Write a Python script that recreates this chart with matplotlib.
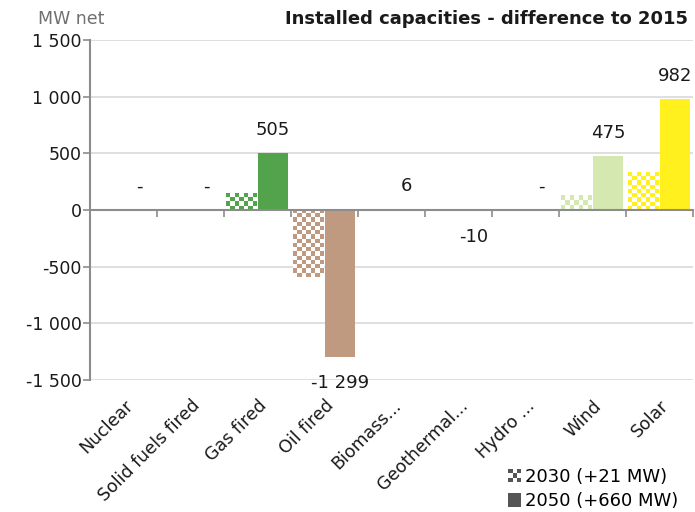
import numpy as np
import matplotlib
matplotlib.use("Agg")
import matplotlib.pyplot as plt
from matplotlib.patches import Rectangle
from matplotlib.legend_handler import HandlerBase
from matplotlib.ticker import FixedLocator, FuncFormatter

categories = ["Nuclear", "Solid fuels fired", "Gas fired", "Oil fired", "Biomass...",
              "Geothermal...", "Hydro ...", "Wind", "Solar"]
values_2030 = [0, 0, 150, -595, 5, -4, 0, 130, 335]
values_2050 = [0, 0, 505, -1299, 6, -10, 0, 475, 982]
colors = ["#8a8a8a", "#6b5a4a", "#52a34c", "#c09a80", "#a8a86a",
          "#b5584a", "#4a7fc0", "#d4e8b0", "#fff01e"]
legend_labels = ["2030 (+21 MW)", "2050 (+660 MW)"]
yticks = [-1500, -1000, -500, 0, 500, 1000, 1500]

plt.rcParams["font.family"] = ["DejaVu Sans"]
fig = plt.figure(figsize=(6.95, 5.12), dpi=100)
ax = fig.add_axes([90 / 695, 1 - 380 / 512, 603 / 695, 340 / 512])

x = np.arange(len(categories))
w = 0.46
ax.set_xlim(-0.5, len(categories) - 0.5)
ax.set_ylim(-1500, 1500)

# grid
for t in yticks:
    if t != 0:
        ax.axhline(t, color="#d9d9d9", lw=1.2, zorder=0)

bars30 = ax.bar(x - w / 2 - 0.005, values_2030, width=w, color="white", edgecolor="none", zorder=2)
bars50 = ax.bar(x + w / 2, values_2050, width=w, color=colors, edgecolor="none", zorder=2)

fig.canvas.draw()
cell = 4.3
for b, c in zip(bars30, colors):
    h = b.get_height()
    if h == 0:
        continue
    x0, y0 = b.get_x(), b.get_y()
    x1, y1 = x0 + b.get_width(), y0 + h
    ya, yb = min(y0, y1), max(y0, y1)
    p0 = ax.transData.transform((x0, ya))
    p1 = ax.transData.transform((x1, yb))
    nx = max(1, int(round((p1[0] - p0[0]) / cell)))
    ny = max(1, int(round((p1[1] - p0[1]) / cell)))
    rgba = np.array(matplotlib.colors.to_rgba(c))
    img = np.ones((ny, nx, 4))
    ii, jj = np.indices((ny, nx))
    mask = (ii + jj) % 2 == 0
    img[mask] = rgba
    im = ax.imshow(img, extent=(x0, x1, ya, yb), aspect="auto",
                   interpolation="nearest", origin="upper", zorder=3)
    im.set_clip_path(b)
ax.set_xlim(-0.5, len(categories) - 0.5)
ax.set_ylim(-1500, 1500)

# value labels
def fmt(v):
    if v == 0:
        return "-"
    s = f"{abs(v):,}".replace(",", " ")
    return ("-" if v < 0 else "") + s

for b, v in zip(bars50, values_2050):
    cx = b.get_x() + b.get_width() / 2
    if v >= 0:
        ax.annotate(fmt(v), (cx, v), xytext=(0, 10), textcoords="offset points",
                    ha="center", va="bottom", fontsize=13, color="#1a1a1a")
    else:
        ax.annotate(fmt(v), (cx, v), xytext=(0, -12), textcoords="offset points",
                    ha="center", va="top", fontsize=13, color="#1a1a1a")

# spines / axes
for s in ["top", "right"]:
    ax.spines[s].set_visible(False)
ax.spines["left"].set_color("#8c8c8c")
ax.spines["left"].set_linewidth(1.5)
ax.spines["bottom"].set_position(("data", 0))
ax.spines["bottom"].set_color("#8c8c8c")
ax.spines["bottom"].set_linewidth(1.5)
ax.spines["bottom"].set_zorder(4)

ax.set_yticks(yticks)
ax.yaxis.set_major_formatter(FuncFormatter(lambda v, p: fmt(int(v)) if v != 0 else "0"))
ax.tick_params(axis="y", direction="out", length=5, width=1.2, color="#8c8c8c",
               labelsize=12.5, labelcolor="#1a1a1a", pad=1)

ax.xaxis.set_major_locator(FixedLocator(list(np.arange(-0.5, len(categories), 1.0))))
ax.tick_params(axis="x", direction="out", length=5, width=1.2, color="#8c8c8c",
               labelbottom=False)

sec = ax.secondary_xaxis(0)
sec.spines["bottom"].set_visible(False)
sec.set_xticks(x)
sec.set_xticklabels(categories, rotation=45, ha="right", rotation_mode="anchor",
                    fontsize=12.5, color="#1a1a1a")
sec.tick_params(axis="x", length=0, pad=12)

# titles
fig.text(38 / 695, 1 - 19 / 512, "MW net", fontsize=12.5, color="#707070",
         ha="left", va="center")
fig.text(688 / 695, 1 - 19 / 512, "Installed capacities - difference to 2015",
         fontsize=13, fontweight="bold", ha="right", va="center", color="#1a1a1a",
         family=["DejaVu Sans Condensed", "DejaVu Sans"])

# legend
class CheckerHandler(HandlerBase):
    def create_artists(self, legend, orig_handle, xdescent, ydescent, width, height,
                       fontsize, trans):
        s = min(width, height)
        n = 3
        d = s / n
        x0 = -xdescent + width - s
        y0 = -ydescent + (height - s) / 2
        arts = []
        for i in range(n):
            for j in range(n):
                col = "#555555" if (i + j) % 2 == 0 else "white"
                r = Rectangle((x0 + i * d, y0 + j * d), d, d, facecolor=col,
                              edgecolor="none", transform=trans)
                arts.append(r)
        return arts

class SolidHandler(HandlerBase):
    def create_artists(self, legend, orig_handle, xdescent, ydescent, width, height,
                       fontsize, trans):
        s = min(width, height)
        x0 = -xdescent + width - s
        y0 = -ydescent + (height - s) / 2
        return [Rectangle((x0, y0), s, s, facecolor="#555555", edgecolor="none",
                          transform=trans)]

h1 = Rectangle((0, 0), 1, 1)
h2 = Rectangle((0, 0), 1, 1, facecolor="#555555")
leg = fig.legend([h1, h2], legend_labels, loc="lower right",
                 bbox_to_anchor=(680 / 695, 0.0), frameon=False, fontsize=13,
                 handler_map={h1: CheckerHandler(), h2: SolidHandler()},
                 handlelength=0.75, handleheight=0.75, handletextpad=0.2,
                 labelspacing=0.35, borderaxespad=0.0, borderpad=0.1)

fig.savefig("out.png", dpi=100)
